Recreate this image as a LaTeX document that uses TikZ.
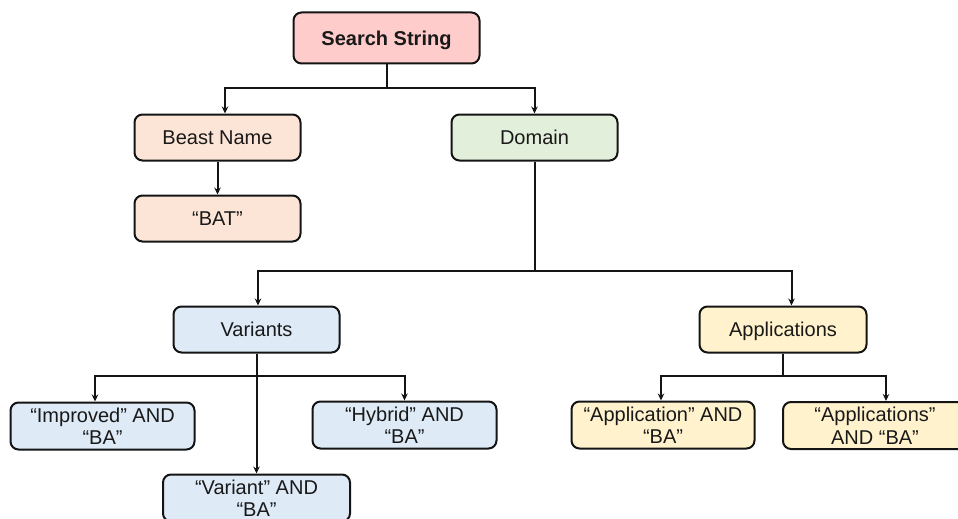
\documentclass[tikz,border=0pt]{standalone}
\usepackage{fontspec}
\setmainfont{Liberation Sans}
\usetikzlibrary{arrows.meta}
\definecolor{cPink}{RGB}{255,204,204}
\definecolor{cPeach}{RGB}{252,229,214}
\definecolor{cGreen}{RGB}{226,239,218}
\definecolor{cBlue}{RGB}{222,234,246}
\definecolor{cYellow}{RGB}{255,242,204}
\definecolor{cLine}{RGB}{20,20,20}
\tikzset{
  box/.style={draw=cLine, line width=2pt, rounded corners=8pt, align=center,
    inner sep=0pt, font=\fontsize{20}{22.5}\selectfont, text=black!90},
  one/.style={text height=14.3pt, text depth=0pt},
  arr/.style={draw=cLine, line width=2pt, -{Stealth[length=7pt,width=6.5pt]}},
}
\begin{document}
\begin{tikzpicture}[x=1pt,y=-1pt]
\useasboundingbox (0,0) rectangle (958,519);
\node[box, one, fill=cPink, minimum width=186pt, minimum height=51pt, font=\fontsize{20}{22.5}\selectfont\bfseries] (ss) at (386.5,38) {Search String};
\node[box, one, fill=cPeach, minimum width=166pt, minimum height=46pt] (bn) at (217.5,137.5) {Beast Name};
\node[box, one, fill=cPeach, minimum width=166pt, minimum height=46pt] (bat) at (217.5,218.5) {“BAT”};
\node[box, one, fill=cGreen, minimum width=166pt, minimum height=46pt] (dom) at (534.5,137.5) {Domain};
\node[box, one, fill=cBlue, minimum width=166pt, minimum height=46pt] (var) at (256.5,329.5) {Variants};
\node[box, one, fill=cYellow, minimum width=167pt, minimum height=46pt] (app) at (783,329.5) {Applications};
\node[box, fill=cBlue, minimum width=184pt, minimum height=47pt] (imp) at (102.5,426) {“Improved” AND\\“BA”};
\node[box, fill=cBlue, minimum width=184pt, minimum height=47pt] (hyb) at (404.5,425) {“Hybrid” AND\\“BA”};
\node[box, fill=cBlue, minimum width=187pt, minimum height=47pt] (vab) at (256.5,498) {“Variant” AND\\“BA”};
\node[box, fill=cYellow, minimum width=183pt, minimum height=47pt] (apa) at (663,425) {“Application” AND\\“BA”};
\node[box, fill=cYellow, minimum width=184pt, minimum height=47pt] (apb) at (875,425.5) {“Applications”\\AND “BA”};
% connectors
\draw[arr] (ss.south) -- ++(0,23) -| ([xshift=7.5pt]bn.north);
\draw[arr] (ss.south) -- ++(0,23) -| (dom.north);
\draw[arr] (bn.south) -- (bat.north);
\draw[arr] (dom.south) -- ++(0,109) -| ([xshift=1.5pt]var.north);
\draw[arr] (dom.south) -- ++(0,109) -| ([xshift=8.5pt]app.north);
\draw[arr] (var.south) -- ++(0,22) -| ([xshift=-7.5pt]imp.north);
\draw[arr] (var.south) -- ++(0,22) -| (hyb.north);
\draw[arr] (var.south) -- (vab.north);
\draw[arr] (app.south) -- ++(0,22) -| ([xshift=-2pt]apa.north);
\draw[arr] (app.south) -- ++(0,22) -| ([xshift=11pt]apb.north);
\end{tikzpicture}
\end{document}
